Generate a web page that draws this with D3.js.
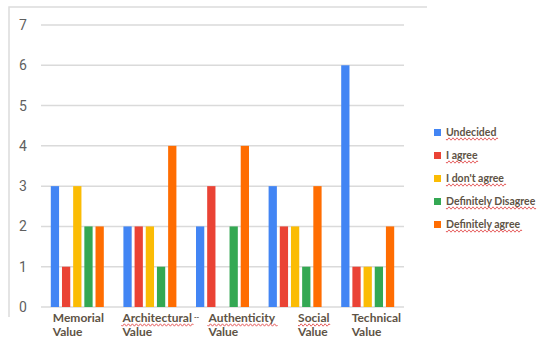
<!DOCTYPE html>
<html>
<head>
<meta charset="utf-8">
<script src="https://cdn.jsdelivr.net/npm/d3@7"></script>
<style>
  body { margin: 0; background: #fff; }
  svg { display: block; }
</style>
</head>
<body>
<div id="chart"></div>
<script>
// categories / series / values
const categories = ["Memorial Value", "Architectural Value", "Authenticity Value", "Social Value", "Technical Value"]
const catLines = [["Memorial", "Value"], ["Architectural", "Value"], ["Authenticity", "Value"], ["Social", "Value"], ["Technical", "Value"]]
const series = ["Undecided", "I agree", "I don't agree", "Definitely Disagree", "Definitely agree"]
const undecided = [3, 2, 2, 3, 6]
const iAgree = [1, 2, 3, 2, 1]
const iDontAgree = [3, 2, 0, 2, 1]
const defDisagree = [2, 1, 2, 1, 1]
const defAgree = [2, 4, 4, 3, 2]
const yTicks = [0, 1, 2, 3, 4, 5, 6, 7]

const values = [undecided, iAgree, iDontAgree, defDisagree, defAgree]
const colors = ["#4285f4", "#ea4335", "#fbbc04", "#34a853", "#ff6d01"]

// labels in the picture are left aligned, a bit off the group starts
const labelShift = [2, -1, 12.5, 29.5, 10.5]
const spelled = [false, true, true, true, false]

const W = 537, H = 338
const svg = d3.select("#chart").append("svg").attr("width", W).attr("height", H)

// frame
svg.append("path")
    .attr("d", "M9,317V7H427")
    .attr("fill", "none")
    .attr("stroke", "#dcdcdc")
    .attr("stroke-width", 1.5)

const x0 = d3.scaleBand().domain(categories).range([41, 404]).paddingInner(0.27).paddingOuter(0.135)
const x1 = d3.scaleBand().domain(series).range([0, x0.bandwidth()]).paddingInner(0.26)
const y = d3.scaleLinear().domain([0, 7]).range([307, 25])

// gridlines + tick labels
svg.append("g").selectAll("line").data(yTicks).enter().append("line")
    .attr("x1", 41).attr("x2", 404)
    .attr("y1", d => y(d)).attr("y2", d => y(d))
    .attr("stroke", "#dadada").attr("stroke-width", 1.5)

svg.append("g").selectAll("text").data(yTicks).enter().append("text")
    .attr("x", 23).attr("y", d => y(d))
    .attr("dy", "0.36em")
    .attr("text-anchor", "middle")
    .attr("font-family", "Roboto, Arial, sans-serif")
    .attr("font-size", 14)
    .attr("fill", "#5f5f5f")
    .text(d => d)

// bars
const groups = svg.append("g").selectAll("g").data(categories).enter().append("g")
    .attr("transform", d => "translate(" + x0(d) + ",0)")

groups.selectAll("rect")
    .data((c, ci) => series.map((s, si) => ({s: s, v: values[si][ci], color: colors[si]})))
    .enter().append("rect")
    .attr("x", d => x1(d.s))
    .attr("width", x1.bandwidth())
    .attr("y", d => y(d.v))
    .attr("height", d => y(0) - y(d.v))
    .attr("fill", d => d.color)

function squiggle(g, x, yy, w) {
    let p = "M" + x + "," + yy
    for (let i = 0; i < w; i += 2) p += "l1," + (i % 4 === 0 ? 1.2 : -1.2) + "l1," + (i % 4 === 0 ? -1.2 : 1.2)
    g.append("path").attr("d", p).attr("fill", "none").attr("stroke", "#e03b3b").attr("stroke-width", 0.8)
}

const textCol = "#5e5345"
const labelFont = "Lato, 'Open Sans', sans-serif"

// category labels
categories.forEach((c, i) => {
    const lx = x0(c) + labelShift[i]
    const g = svg.append("g")
    catLines[i].forEach((line, li) => {
        const t = g.append("text")
            .attr("x", lx).attr("y", 322 + li * 14)
            .attr("font-family", labelFont)
            .attr("font-weight", "bold")
            .attr("font-size", 12)
            .attr("fill", textCol)
            .text(line)
        if (li === 0 && spelled[i]) {
            const bb = t.node().getBBox()
            squiggle(g, bb.x, 325, bb.width)
        }
        // the truncated "--" after Architectural
        if (li === 0 && i === 1) {
            t.append("tspan").attr("font-size", 7).attr("dx", 2).attr("dy", -2).text("--")
        }
    })
})

// legend
const leg = svg.append("g")
series.forEach((s, i) => {
    const ly = 132.5 + i * 23
    leg.append("rect")
        .attr("x", 434).attr("y", ly - 3.5)
        .attr("width", 7).attr("height", 7)
        .attr("fill", colors[i])
    const t = leg.append("text")
        .attr("x", 446).attr("y", ly)
        .attr("dy", "0.35em")
        .attr("font-family", labelFont)
        .attr("font-weight", "bold")
        .attr("font-size", 10.5)
        .attr("fill", textCol)
        .text(s)
    const bb = t.node().getBBox()
    squiggle(leg, bb.x, ly + 6.5, bb.width)
})
</script>
</body>
</html>
